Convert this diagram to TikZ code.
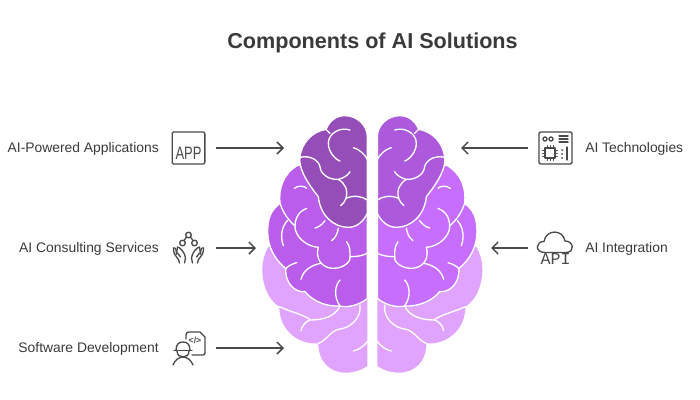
\documentclass[tikz,border=0pt]{standalone}
\usetikzlibrary{arrows.meta}
\usepackage{fontspec}
\setmainfont{Liberation Sans}
\newfontfamily\apifont{Liberation Mono}
\definecolor{inkgrey}{HTML}{4A4A4A}
\definecolor{titlegrey}{HTML}{3A3A3A}
\definecolor{leftdark}{HTML}{954DB8}
\definecolor{leftmid}{HTML}{B95DEA}
\definecolor{rightdark}{HTML}{AD59DB}
\definecolor{rightmid}{HTML}{C86EFF}
\definecolor{lobelight}{HTML}{E0A4FF}
\tikzset{
  heading/.style={font=\bfseries\fontsize{16.2}{18}\selectfont, text=titlegrey, inner sep=0pt},
  caption/.style={font=\fontsize{10.4}{12}\selectfont, text=titlegrey, inner sep=0pt},
  iconbox/.style={minimum width=25.5pt, minimum height=25.5pt, inner sep=0pt, outer sep=8pt},
  iconline/.style={draw=inkgrey, line width=1pt, line cap=round, line join=round},
  conn/.style={-{Straight Barb[length=4.5pt,width=9pt,line width=1.1pt]}, draw=inkgrey, line width=1.1pt},
  lobe/.style={draw=white, line width=1pt, line join=round},
  crease/.style={draw=white, line width=1pt, line cap=round}
}
% one half of the brain, in units of a third of a pixel
\newcommand{\brainhalf}[3]{
\fill[#3] (352,560) -- (352,798) .. controls (335,810) and (310,818) .. (288,818)
  .. controls (240,818) and (205,785) .. (205,730) .. controls (150,735) and (88,695) .. (88,620)
  .. controls (55,600) and (37,555) .. (37,510) .. controls (37,480) and (45,460) .. (55,440) -- (200,500) -- cycle;
\draw[lobe,fill=#2] (352,595) .. controls (335,610) and (300,625) .. (270,618)
  .. controls (230,620) and (190,605) .. (165,575) .. controls (135,578) and (105,550) .. (107,505)
  .. controls (75,480) and (53,440) .. (53,395) .. controls (53,350) and (65,330) .. (90,310)
  .. controls (85,265) and (100,220) .. (145,195) -- (352,250) -- cycle;
\draw[lobe,fill=#1] (352,110) .. controls (352,75) and (320,47) .. (285,47)
  .. controls (260,47) and (240,60) .. (228,88) .. controls (185,95) and (155,130) .. (150,170)
  .. controls (145,200) and (165,240) .. (205,290) .. controls (210,345) and (250,382) .. (295,382)
  .. controls (320,382) and (340,365) .. (352,340) -- cycle;
\draw[crease] (228,88) -- (240,100);
\draw[crease] (300,90) .. controls (270,80) and (235,100) .. (235,130) .. controls (235,155) and (255,178) .. (270,183);
\draw[crease] (310,143) .. controls (330,148) and (345,165) .. (352,178);
\draw[crease] (150,172) .. controls (180,165) and (205,180) .. (210,200) .. controls (212,225) and (240,240) .. (265,238) .. controls (280,235) and (295,225) .. (300,215);
\draw[crease] (265,238) .. controls (285,250) and (295,270) .. (288,295) .. controls (285,305) and (278,312) .. (272,317);
\draw[crease] (288,295) .. controls (310,285) and (335,288) .. (352,300);
\draw[crease] (133,265) .. controls (145,255) and (165,258) .. (170,265);
\draw[crease] (170,325) .. controls (145,335) and (135,355) .. (135,380) .. controls (135,410) and (170,440) .. (205,442)
  .. controls (195,475) and (215,505) .. (250,505) .. controls (285,505) and (305,480) .. (300,470) .. controls (300,450) and (300,440) .. (290,425);
\draw[crease] (300,470) .. controls (320,470) and (335,468) .. (352,460);
\draw[crease] (90,310) .. controls (100,340) and (115,360) .. (135,378);
\draw[crease] (112,362) .. controls (95,380) and (90,410) .. (100,437);
\draw[crease] (195,384) .. controls (205,382) and (215,375) .. (225,362);
\draw[crease] (265,385) .. controls (262,400) and (258,412) .. (245,422);
\draw[crease] (140,488) .. controls (125,492) and (110,500) .. (107,508);
\draw[crease] (212,490) .. controls (185,495) and (160,510) .. (153,538);
\draw[crease] (270,540) .. controls (255,555) and (250,590) .. (270,618);
\draw[crease] (330,615) .. controls (335,655) and (300,685) .. (265,688) .. controls (240,695) and (225,725) .. (205,730);
\draw[crease] (270,618) .. controls (255,650) and (220,660) .. (180,660) .. controls (165,665) and (155,680) .. (153,692);
\draw[crease] (88,620) .. controls (120,635) and (150,640) .. (180,658);
\draw[crease] (352,725) .. controls (340,740) and (325,750) .. (310,753);
}
\begin{document}
\begin{tikzpicture}[x=0.75pt,y=-0.75pt]
\useasboundingbox (0,0) rectangle (700,400);
\node[heading] (title) at (372.5,43) {Components of AI Solutions};
% brain
\begin{scope}[shift={(250,100)},x=0.25pt,y=-0.25pt]
\brainhalf{leftdark}{leftmid}{lobelight}
\end{scope}
\begin{scope}[shift={(494.67,100)},x=-0.25pt,y=-0.25pt]
\brainhalf{rightdark}{rightmid}{lobelight}
\end{scope}
% labels
\node[caption,anchor=east] (apps) at (159,149) {AI-Powered Applications};
\node[caption,anchor=east] (consulting) at (159,249) {AI Consulting Services};
\node[caption,anchor=east] (software) at (159,349) {Software Development};
\node[caption,anchor=west] (tech) at (585,149) {AI Technologies};
\node[caption,anchor=west] (integration) at (585,249) {AI Integration};
% icons
\node[iconbox,iconline,rounded corners=1pt,minimum height=24pt,minimum width=24.5pt] (appicon) at (188.5,148) {};
\node[inner sep=0pt,text=inkgrey,font=\fontsize{13.5}{14}\selectfont] (appword) at (188.5,153) {\scalebox{.72}[1]{APP}};
\node[iconbox] (consulticon) at (188.5,248) {};
\draw[iconline] (188.5,235) circle (2.8);
\draw[iconline] (182.5,243) circle (2.8);
\draw[iconline] (194.5,243) circle (2.8);
\draw[iconline] (186.5,237) -- (184,240.5);
\draw[iconline] (190.5,237) -- (193,240.5);
\foreach \side/\mir in {188.5/1,188.5/-1}{
  \begin{scope}[shift={(\side,0)},xscale=\mir]
  \draw[iconline] (-9,263) .. controls (-9,258) and (-15,256) .. (-15,250) -- (-15,248);
  \draw[iconline] (-15,248) .. controls (-13,247) and (-12,250) .. (-12,254);
  \draw[iconline] (-12,254) -- (-11,247) .. controls (-9,247) and (-3,253) .. (-3,258) -- (-4,263);
  \draw[iconline] (-11,253) -- (-8,257);
  \end{scope}
}
\node[iconbox] (softicon) at (188.5,348) {};
\draw[iconline] (186,339) -- (186,335) .. controls (186,333) and (187,332) .. (189,332) -- (200,332) -- (205,337) -- (205,353) .. controls (205,354) and (204,355) .. (203,355) -- (192,355);
\node[inner sep=0pt,text=inkgrey,font=\bfseries\fontsize{6.5}{7}\selectfont] (codeword) at (195,340.5) {</>};
\draw[iconline] (174,350.5) -- (192,350.5);
\draw[iconline] (176,350.5) .. controls (176,344) and (179,342) .. (183,342) .. controls (187,342) and (190,344) .. (190,350.5);
\draw[iconline] (177,351) .. controls (177,359) and (189,359) .. (189,351);
\draw[iconline] (173,365) .. controls (175,360) and (179,357) .. (183,357) .. controls (187,357) and (191,360) .. (193,365);
\node[iconbox] (techicon) at (555.5,148) {};
\draw[iconline,rounded corners=1pt] (539,132) rectangle (572,164);
\draw[iconline] (545,139) circle (2);
\draw[iconline] (551,139) circle (2);
\draw[iconline] (559,136) -- (568,136);
\draw[iconline] (559,139) -- (568,139);
\draw[iconline] (559,142) -- (568,142);
\draw[iconline] (545,148) rectangle (555,158);
\foreach \pin in {150,153,156}{
  \draw[iconline,line width=.7pt] (542.5,\pin) -- (545,\pin);
  \draw[iconline,line width=.7pt] (555,\pin) -- (557.5,\pin);
}
\foreach \pin in {547,550,553}{
  \draw[iconline,line width=.7pt] (\pin,145.5) -- (\pin,148);
  \draw[iconline,line width=.7pt] (\pin,158) -- (\pin,160.5);
}
\foreach \pin in {150,154,158}{
  \fill[inkgrey] (562,\pin) circle (1);
}
\draw[iconline] (567,147) -- (567,160);
\node[iconbox] (cloudicon) at (555.5,248) {};
\draw[iconline] (545,252.5) .. controls (534,252.5) and (536,241) .. (544,241.5) .. controls (546,229) and (563,229) .. (565,241) .. controls (574,241) and (575,252.5) .. (566,252.5) -- cycle;
\node[inner sep=0pt,text=inkgrey,font=\apifont\fontsize{12.5}{13}\selectfont] (apiword) at (555.5,259.5) {API};
% arrows
\coordinate (appsend) at (284,148);
\coordinate (consultend) at (256,248);
\coordinate (softend) at (284,348);
\coordinate (techend) at (461,148);
\coordinate (cloudend) at (491,248);
\draw[conn] (appicon) -- (appsend);
\draw[conn] (consulticon) -- (consultend);
\draw[conn] (softicon) -- (softend);
\draw[conn] (techicon) -- (techend);
\draw[conn] (cloudicon) -- (cloudend);
\end{tikzpicture}
\end{document}
